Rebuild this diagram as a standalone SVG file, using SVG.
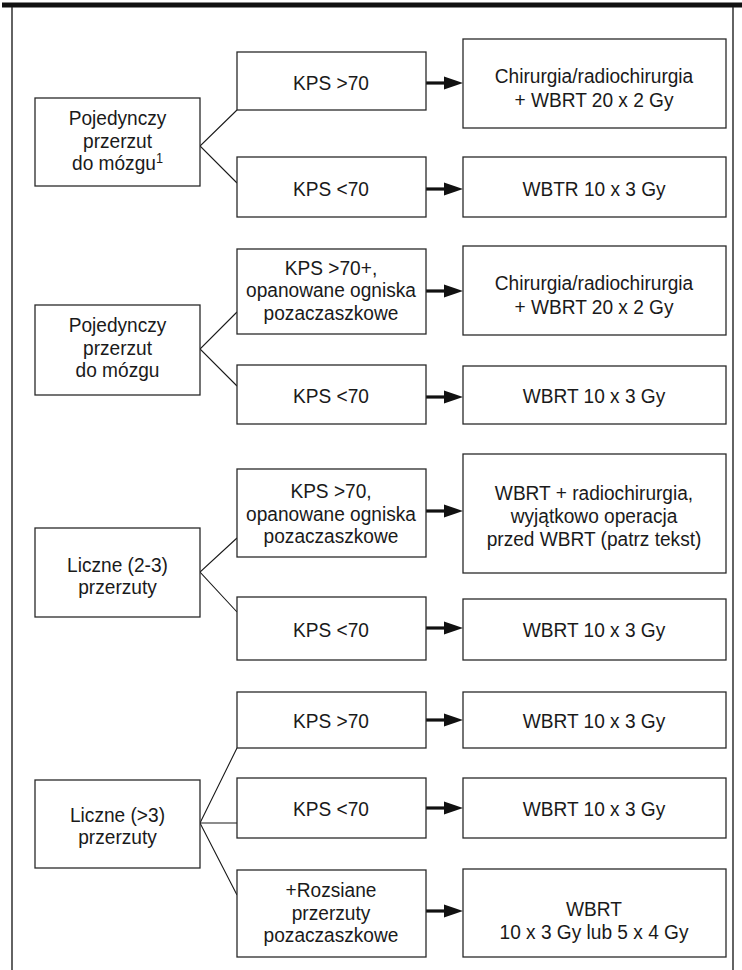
<svg xmlns="http://www.w3.org/2000/svg" width="742" height="970" viewBox="0 0 742 970">
<defs>
<style>
.box{fill:#fff;stroke:#2a2a2a;stroke-width:1.3}
.t{font-family:"Liberation Sans",Arial,sans-serif;font-size:21px;fill:#1a1a1a;text-anchor:middle}
.ln{stroke:#1a1a1a;stroke-width:1.1;fill:none}
.ar{stroke:#111;stroke-width:3.2;fill:none}
.hd{fill:#111}
.sup{font-size:14px}
</style>
</defs>
<rect x="2" y="2.5" width="740" height="5" fill="#111"/>
<line x1="12" y1="7" x2="12" y2="970" stroke="#222" stroke-width="1.4"/>
<line x1="733" y1="7" x2="733" y2="970" stroke="#222" stroke-width="1.4"/>

<g id="connectors">
<polyline class="ln" points="237,110 200,146 237,183"/>
<polyline class="ln" points="237,312 200,349 237,386"/>
<polyline class="ln" points="237,538 200,572 237,612"/>
<polyline class="ln" points="237,748 200,823 237,895"/>
<line class="ln" x1="200" y1="823" x2="237" y2="823"/>
<g id="arrows">
<line class="ar" x1="426" y1="83" x2="446" y2="83"/><polygon class="hd" points="444,76.5 463,83 444,89.5"/>
<line class="ar" x1="426" y1="189" x2="446" y2="189"/><polygon class="hd" points="444,182.5 463,189 444,195.5"/>
<line class="ar" x1="426" y1="291" x2="446" y2="291"/><polygon class="hd" points="444,284.5 463,291 444,297.5"/>
<line class="ar" x1="426" y1="397" x2="446" y2="397"/><polygon class="hd" points="444,390.5 463,397 444,403.5"/>
<line class="ar" x1="426" y1="511" x2="446" y2="511"/><polygon class="hd" points="444,504.5 463,511 444,517.5"/>
<line class="ar" x1="426" y1="628" x2="446" y2="628"/><polygon class="hd" points="444,621.5 463,628 444,634.5"/>
<line class="ar" x1="426" y1="720" x2="446" y2="720"/><polygon class="hd" points="444,713.5 463,720 444,726.5"/>
<line class="ar" x1="426" y1="808" x2="446" y2="808"/><polygon class="hd" points="444,801.5 463,808 444,814.5"/>
<line class="ar" x1="426" y1="911" x2="446" y2="911"/><polygon class="hd" points="444,904.5 463,911 444,917.5"/>
</g>
</g>

<!-- Group 1 -->
<g id="L1"><rect class="box" x="35" y="98" width="165" height="88"/>
<text class="t" transform="translate(117.5 0) scale(0.91 1)"><tspan x="0" y="125.5">Pojedynczy</tspan><tspan x="0" y="148">przerzut</tspan><tspan x="0" y="170.5">do mózgu<tspan class="sup" dy="-7">1</tspan></tspan></text></g>
<g id="M1a"><rect class="box" x="237" y="52" width="189" height="58"/>
<text class="t" transform="translate(331 90) scale(0.91 1)">KPS &gt;70</text></g>
<g id="R1a"><rect class="box" x="463" y="39" width="263" height="89"/>
<text class="t" transform="translate(594 0) scale(0.91 1)"><tspan x="0" y="83">Chirurgia/radiochirurgia</tspan><tspan x="0" y="107">+ WBRT 20 x 2 Gy</tspan></text></g>
<g id="M1b"><rect class="box" x="237" y="157" width="189" height="60"/>
<text class="t" transform="translate(331 195.5) scale(0.91 1)">KPS &lt;70</text></g>
<g id="R1b"><rect class="box" x="463" y="157" width="263" height="60"/>
<text class="t" transform="translate(594 195.5) scale(0.91 1)">WBTR 10 x 3 Gy</text></g>

<!-- Group 2 -->
<g id="L2"><rect class="box" x="35" y="305" width="165" height="90"/>
<text class="t" transform="translate(117.5 0) scale(0.91 1)"><tspan x="0" y="332.5">Pojedynczy</tspan><tspan x="0" y="355">przerzut</tspan><tspan x="0" y="377.5">do mózgu</tspan></text></g>
<g id="M2a"><rect class="box" x="237" y="249" width="189" height="85"/>
<text class="t" transform="translate(331 0) scale(0.91 1)"><tspan x="0" y="275">KPS &gt;70+,</tspan><tspan x="0" y="297.5">opanowane ogniska</tspan><tspan x="0" y="320">pozaczaszkowe</tspan></text></g>
<g id="R2a"><rect class="box" x="463" y="246" width="263" height="89"/>
<text class="t" transform="translate(594 0) scale(0.91 1)"><tspan x="0" y="290">Chirurgia/radiochirurgia</tspan><tspan x="0" y="314">+ WBRT 20 x 2 Gy</tspan></text></g>
<g id="M2b"><rect class="box" x="237" y="365" width="189" height="59"/>
<text class="t" transform="translate(331 402.5) scale(0.91 1)">KPS &lt;70</text></g>
<g id="R2b"><rect class="box" x="463" y="366" width="263" height="58"/>
<text class="t" transform="translate(594 402.5) scale(0.91 1)">WBRT 10 x 3 Gy</text></g>

<!-- Group 3 -->
<g id="L3"><rect class="box" x="35" y="528" width="165" height="89"/>
<text class="t" transform="translate(117.5 0) scale(0.91 1)"><tspan x="0" y="572">Liczne (2-3)</tspan><tspan x="0" y="594.5">przerzuty</tspan></text></g>
<g id="M3a"><rect class="box" x="237" y="469" width="189" height="88"/>
<text class="t" transform="translate(331 0) scale(0.91 1)"><tspan x="0" y="498.5">KPS &gt;70,</tspan><tspan x="0" y="521">opanowane ogniska</tspan><tspan x="0" y="543.5">pozaczaszkowe</tspan></text></g>
<g id="R3a"><rect class="box" x="463" y="454" width="263" height="119"/>
<text class="t" transform="translate(594 0) scale(0.91 1)"><tspan x="0" y="500">WBRT + radiochirurgia,</tspan><tspan x="0" y="523">wyjątkowo operacja</tspan><tspan x="0" y="546">przed WBRT (patrz tekst)</tspan></text></g>
<g id="M3b"><rect class="box" x="237" y="597" width="189" height="63"/>
<text class="t" transform="translate(331 636.5) scale(0.91 1)">KPS &lt;70</text></g>
<g id="R3b"><rect class="box" x="463" y="599" width="263" height="61"/>
<text class="t" transform="translate(594 636.5) scale(0.91 1)">WBRT 10 x 3 Gy</text></g>

<!-- Group 4 -->
<g id="L4"><rect class="box" x="35" y="780" width="165" height="88"/>
<text class="t" transform="translate(117.5 0) scale(0.91 1)"><tspan x="0" y="822">Liczne (&gt;3)</tspan><tspan x="0" y="844.5">przerzuty</tspan></text></g>
<g id="M4a"><rect class="box" x="237" y="692" width="189" height="56"/>
<text class="t" transform="translate(331 728) scale(0.91 1)">KPS &gt;70</text></g>
<g id="R4a"><rect class="box" x="463" y="692" width="263" height="56"/>
<text class="t" transform="translate(594 728) scale(0.91 1)">WBRT 10 x 3 Gy</text></g>
<g id="M4b"><rect class="box" x="237" y="778" width="189" height="60"/>
<text class="t" transform="translate(331 816) scale(0.91 1)">KPS &lt;70</text></g>
<g id="R4b"><rect class="box" x="463" y="778" width="263" height="60"/>
<text class="t" transform="translate(594 816) scale(0.91 1)">WBRT 10 x 3 Gy</text></g>
<g id="M4c"><rect class="box" x="237" y="870" width="189" height="87"/>
<text class="t" transform="translate(331 0) scale(0.91 1)"><tspan x="0" y="897.5">+Rozsiane</tspan><tspan x="0" y="920">przerzuty</tspan><tspan x="0" y="942.5">pozaczaszkowe</tspan></text></g>
<g id="R4c"><rect class="box" x="463" y="869" width="263" height="88"/>
<text class="t" transform="translate(594 0) scale(0.91 1)"><tspan x="0" y="916">WBRT</tspan><tspan x="0" y="939">10 x 3 Gy lub 5 x 4 Gy</tspan></text></g>
</svg>
